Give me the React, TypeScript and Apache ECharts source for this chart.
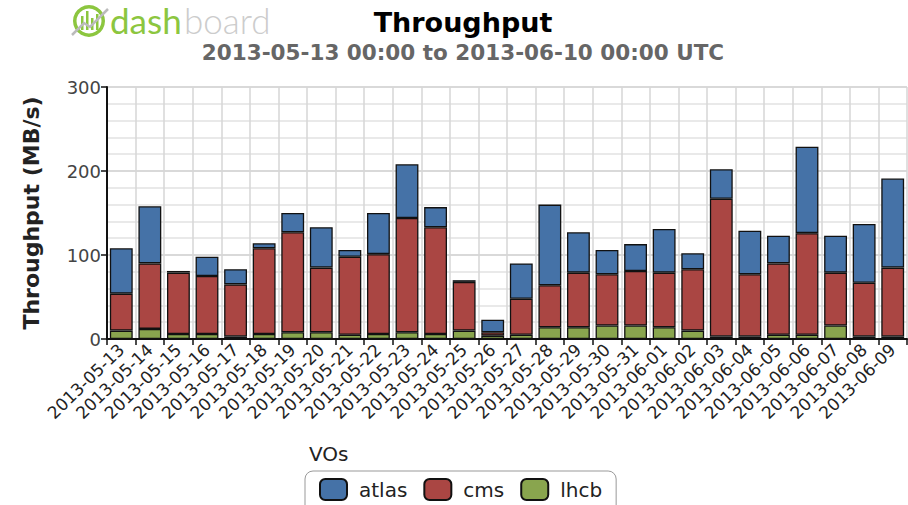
import React, { useEffect, useRef } from "react";
import * as echarts from "echarts";

const dates = [
  "2013-05-13", "2013-05-14", "2013-05-15", "2013-05-16", "2013-05-17", "2013-05-18", "2013-05-19",
  "2013-05-20", "2013-05-21", "2013-05-22", "2013-05-23", "2013-05-24", "2013-05-25", "2013-05-26",
  "2013-05-27", "2013-05-28", "2013-05-29", "2013-05-30", "2013-05-31", "2013-06-01", "2013-06-02",
  "2013-06-03", "2013-06-04", "2013-06-05", "2013-06-06", "2013-06-07", "2013-06-08", "2013-06-09",
];
const lhcb = [10, 12, 6, 6, 3, 6, 8, 8, 5, 6, 8, 6, 10, 4, 5, 14, 14, 16, 16, 14, 10, 3, 3, 5, 5, 16, 3, 3];
const cms = [44, 78, 73, 69, 62, 102, 119, 77, 93, 95, 136, 127, 58, 4, 43, 50, 65, 61, 65, 65, 73, 164, 74, 85, 121, 63, 64, 82];
const atlas = [54, 68, 2, 23, 18, 6, 23, 48, 8, 49, 64, 24, 2, 15, 42, 96, 48, 29, 32, 52, 19, 35, 52, 33, 103, 44, 70, 106];
const yTicks = [0, 100, 200, 300];

const COLORS = { atlas: "#4572A7", cms: "#AA4643", lhcb: "#89A54E" };

export default function App() {
  const ref = useRef<HTMLDivElement>(null);
  useEffect(() => {
    if (!ref.current) return;
    const chart = echarts.init(ref.current, undefined, { renderer: "svg" });
    const font = "DejaVu Sans";
    const green = "#8cc63f";
    const mk = (name: string, data: number[], color: string) => ({
      name,
      type: "bar",
      stack: "total",
      data,
      barWidth: "80%",
      itemStyle: { color, borderColor: "#111", borderWidth: 1.3 },
    });
    chart.setOption({
      animation: false,
      backgroundColor: "#ffffff",
      title: {
        text: "Throughput",
        subtext: "2013-05-13 00:00 to 2013-06-10 00:00 UTC",
        left: 458,
        textAlign: "center",
        top: 4,
        itemGap: 5,
        textStyle: { fontFamily: font, fontWeight: "bold", fontSize: 27, color: "#000" },
        subtextStyle: { fontFamily: font, fontWeight: "bold", fontSize: 21.5, color: "#666" },
      },
      graphic: [
        {
          type: "ring",
          shape: { cx: 89, cy: 21, r: 16, r0: 12.5 },
          style: { fill: green },
        },
        { type: "rect", shape: { x: 81, y: 16, width: 2.5, height: 14 }, style: { fill: green } },
        { type: "rect", shape: { x: 86, y: 11, width: 2.5, height: 19 }, style: { fill: green } },
        { type: "rect", shape: { x: 91, y: 18, width: 2.5, height: 12 }, style: { fill: green } },
        { type: "rect", shape: { x: 96, y: 14, width: 2.5, height: 16 }, style: { fill: green } },
        {
          type: "polyline",
          shape: { points: [[72, 35], [84, 23], [90, 27], [108, 9]] },
          style: { stroke: "#bbbbbb", lineWidth: 2.5, fill: "none" },
        },
        {
          type: "text",
          x: 110,
          y: 2,
          style: { text: "dash", fontFamily: "Lato", fontWeight: 400, fontSize: 35, lineHeight: 36, fill: green },
        },
        {
          type: "text",
          x: 184,
          y: 2,
          style: { text: "board", fontFamily: "Lato", fontWeight: 300, fontSize: 35, lineHeight: 36, fill: "#cccccc" },
        },
        {
          type: "text",
          left: 309,
          top: 444,
          style: { text: "VOs", fontFamily: font, fontSize: 20, fill: "#222" },
        },
      ],
      legend: {
        data: ["atlas", "cms", "lhcb"],
        left: 305,
        top: 471,
        padding: [7, 14, 12, 14],
        borderColor: "#999",
        borderWidth: 1,
        borderRadius: 8,
        itemWidth: 27,
        itemHeight: 21,
        itemGap: 16,
        icon: "roundRect",
        textStyle: { fontFamily: font, fontSize: 20, color: "#222", padding: [0, 0, 0, 7] },
      },
      grid: { left: 107, right: 1, top: 87, bottom: 166, containLabel: false },
      xAxis: {
        type: "category",
        data: dates,
        boundaryGap: true,
        axisLine: { show: true, lineStyle: { color: "#111", width: 2 } },
        axisTick: { show: true, alignWithLabel: false, length: 6, lineStyle: { color: "#111", width: 1.5 } },
        axisLabel: {
          interval: 0,
          rotate: 44,
          margin: 8,
          fontFamily: font,
          fontSize: 17,
          color: "#222",
        },
        splitLine: { show: true, interval: 0, lineStyle: { color: "#d6d6d6", width: 1.5 } },
      },
      yAxis: {
        type: "value",
        min: yTicks[0],
        max: yTicks[yTicks.length - 1],
        interval: 100,
        name: "Throughput (MB/s)",
        nameLocation: "middle",
        nameGap: 65,
        nameTextStyle: { fontFamily: font, fontWeight: "bold", fontSize: 22, color: "#222" },
        axisLine: { show: true, lineStyle: { color: "#111", width: 2 } },
        axisTick: { show: true, length: 6, lineStyle: { color: "#111", width: 1.5 } },
        axisLabel: { fontFamily: font, fontSize: 18, color: "#444", margin: 6 },
        splitLine: { show: true, lineStyle: { color: "#cccccc", width: 1.5 } },
        minorTick: { show: false, splitNumber: 5 },
        minorSplitLine: { show: true, lineStyle: { color: "#e2e2e2", width: 1.5 } },
      },
      series: [mk("lhcb", lhcb, COLORS.lhcb), mk("cms", cms, COLORS.cms), mk("atlas", atlas, COLORS.atlas)],
    });
    return () => chart.dispose();
  }, []);
  return (
    <div
      ref={ref}
      style={{ position: "fixed", left: 0, top: 0, width: 908, height: 505, background: "#fff" }}
    />
  );
}
